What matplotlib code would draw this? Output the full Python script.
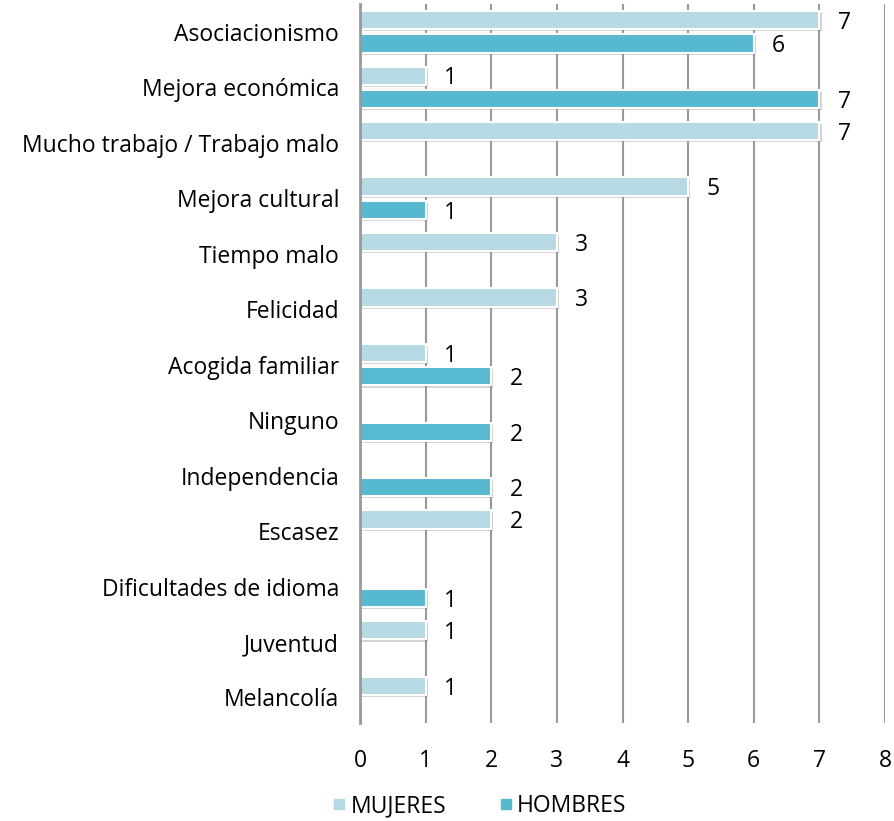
import numpy as np
import matplotlib.pyplot as plt
import matplotlib.patheffects as pe
from matplotlib.lines import Line2D

plt.rcParams['font.family'] = ['Open Sans', 'DejaVu Sans']

categories = ["Asociacionismo", "Mejora económica", "Mucho trabajo / Trabajo malo",
              "Mejora cultural", "Tiempo malo", "Felicidad", "Acogida familiar",
              "Ninguno", "Independencia", "Escasez", "Dificultades de idioma",
              "Juventud", "Melancolía"]
mujeres = [7, 1, 7, 5, 3, 3, 1, 0, 0, 2, 0, 1, 1]
hombres = [6, 7, 0, 1, 0, 0, 2, 2, 2, 0, 1, 0, 0]

c_muj = '#b7d9e3'
c_hom = '#56b9d0'

fig = plt.figure(figsize=(8.94, 8.21), dpi=100)
ax = fig.add_axes([0.4027, 0.1194, 0.5873, 0.8756])

y = np.arange(len(categories))
off = 0.21
h = 0.33
shadow = [pe.SimplePatchShadow(offset=(1.5, -1.5), shadow_rgbFace='#888888', alpha=0.35), pe.Normal()]

for vals, d, col in [(mujeres, -off, c_muj), (hombres, off, c_hom)]:
    bars = ax.barh(y + d, vals, height=h, color=col, edgecolor='white', linewidth=1.5, zorder=3)
    for b, v in zip(bars, vals):
        if v == 0:
            b.set_visible(False)
            continue
        b.set_path_effects(shadow)
        ax.text(v + 0.28, b.get_y() + b.get_height() / 2 + 0.05, str(v), va='center', ha='left',
                fontsize=16.5, color='black')

ax.set_xlim(0, 8)
ax.set_ylim(12.46, -0.5)
ax.set_xticks(range(9))
ax.set_yticks(y)
ax.set_yticklabels(categories, fontsize=16.5)
ax.tick_params(axis='x', length=0, pad=19, labelsize=16.5)
ax.tick_params(axis='y', length=0, pad=15)
ax.grid(axis='x', color='#999999', linewidth=1.5, zorder=0)
for s in ['top', 'right', 'bottom']:
    ax.spines[s].set_visible(False)
ax.spines['left'].set_color('#999999')
ax.spines['left'].set_linewidth(2)
ax.spines['left'].set_zorder(4)

handles = [Line2D([], [], marker='s', linestyle='', color=c_muj, markersize=7),
           Line2D([], [], marker='s', linestyle='', color=c_hom, markersize=7)]
fig.legend(handles, ['MUJERES', 'HOMBRES'], loc='lower center', bbox_to_anchor=(0.535, -0.022),
           ncol=2, frameon=False, fontsize=16.5, handletextpad=0.1, columnspacing=2.2,
           handlelength=0.8)

fig.savefig('out.png', dpi=100)
